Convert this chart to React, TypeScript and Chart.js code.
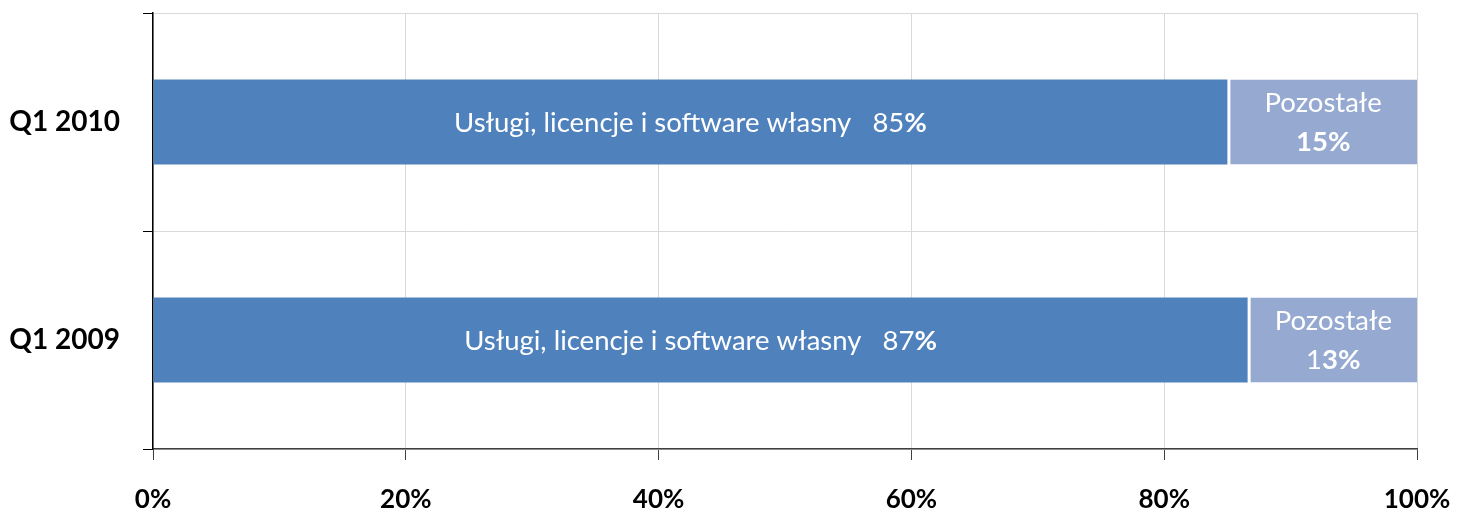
import React, { useEffect, useRef } from "react";
import { Chart, registerables } from "chart.js";

Chart.register(...registerables);

const categories = ["Q1 2010", "Q1 2009"];
const ownShare = [85, 86.6];
const otherShare = [15, 13.4];
const ownLabel = "Usługi, licencje i software własny";
const otherLabel = "Pozostałe";
const xTicks = [0, 20, 40, 60, 80, 100];
// which characters of each percentage text are bold (Excel-like mixed formatting)
const ownBoldFrom = [2, 2];
const otherBoldFrom = [0, 1];

const FONT = "Lato";
const LABEL_SIZE = 27.5;

function drawMixed(ctx: CanvasRenderingContext2D, parts: { t: string; bold: boolean }[], cx: number, cy: number, size: number) {
  const widths = parts.map((p) => {
    ctx.font = `${p.bold ? "bold " : ""}${size}px ${FONT}`;
    return ctx.measureText(p.t).width;
  });
  const total = widths.reduce((a, b) => a + b, 0);
  let x = cx - total / 2;
  parts.forEach((p, i) => {
    ctx.font = `${p.bold ? "bold " : ""}${size}px ${FONT}`;
    ctx.fillText(p.t, x, cy);
    x += widths[i];
  });
}

const labelPlugin = {
  id: "segLabels",
  afterDatasetsDraw(chart: any) {
    const ctx = chart.ctx as CanvasRenderingContext2D;
    ctx.save();
    ctx.fillStyle = "#ffffff";
    ctx.textAlign = "left";
    ctx.textBaseline = "middle";
    const m0 = chart.getDatasetMeta(0);
    const m1 = chart.getDatasetMeta(1);
    categories.forEach((_, i) => {
      const b0 = m0.data[i];
      const pct0 = `${Math.round(ownShare[i])}%`;
      const cx0 = (b0.base + b0.x) / 2;
      drawMixed(
        ctx,
        [
          { t: ownLabel + "   " + pct0.slice(0, ownBoldFrom[i]), bold: false },
          { t: pct0.slice(ownBoldFrom[i]), bold: true },
        ],
        cx0,
        b0.y + 1,
        LABEL_SIZE
      );
      const b1 = m1.data[i];
      const pct1 = `${Math.round(otherShare[i])}%`;
      const cx1 = (b1.base + b1.x) / 2 + 1;
      drawMixed(ctx, [{ t: otherLabel, bold: false }], cx1, b1.y - 19, LABEL_SIZE);
      drawMixed(
        ctx,
        [
          { t: pct1.slice(0, otherBoldFrom[i]), bold: false },
          { t: pct1.slice(otherBoldFrom[i]), bold: true },
        ],
        cx1,
        b1.y + 20,
        LABEL_SIZE
      );
    });
    ctx.restore();
  },
};

export default function App() {
  const ref = useRef<HTMLCanvasElement | null>(null);
  useEffect(() => {
    document.body.style.margin = "0";
    const chart = new Chart(ref.current!, {
      type: "bar",
      data: {
        labels: categories,
        datasets: [
          {
            label: ownLabel,
            data: ownShare,
            backgroundColor: "#4F81BD",
            borderWidth: 0,
            barPercentage: 0.39,
            categoryPercentage: 1,
          },
          {
            label: otherLabel,
            data: otherShare,
            backgroundColor: "#95A9D1",
            borderColor: "#ffffff",
            borderWidth: { left: 3, top: 0, right: 0, bottom: 0 },
            borderSkipped: false,
            barPercentage: 0.39,
            categoryPercentage: 1,
          },
        ],
      },
      options: {
        indexAxis: "y",
        animation: false,
        responsive: false,
        maintainAspectRatio: false,
        layout: { padding: { left: 0, right: 41, top: 13, bottom: 0 } },
        plugins: { legend: { display: false }, tooltip: { enabled: false } },
        scales: {
          x: {
            stacked: true,
            min: 0,
            max: 100,
            afterBuildTicks: (s: any) => {
              s.ticks = xTicks.map((v) => ({ value: v }));
            },
            afterFit: (s: any) => {
              s.height = 64;
              s.paddingLeft = 0;
              s.paddingRight = 0;
              s.paddingTop = 0;
              s.paddingBottom = 0;
            },
            grid: {
              color: "#d9d9d9",
              tickColor: "#404040",
              tickLength: 11,
              lineWidth: 1,
            },
            border: { color: "#404040", width: 1.5 },
            ticks: {
              color: "#000",
              padding: 24,
              font: { family: FONT, size: 26, weight: "bold" },
              callback: (v: any) => `${v}%`,
              maxRotation: 0,
            },
          },
          y: {
            stacked: true,
            afterFit: (s: any) => {
              s.width = 153;
              s.paddingLeft = 0;
              s.paddingRight = 0;
              s.paddingTop = 0;
              s.paddingBottom = 0;
            },
            grid: {
              offset: true,
              color: "#d9d9d9",
              tickColor: "#000",
              tickLength: 10,
            },
            border: { color: "#000", width: 1.5 },
            ticks: {
              color: "#000",
              padding: 23,
              font: { family: FONT, size: 28, weight: "bold" },
            },
          },
        },
      },
      plugins: [labelPlugin],
    });
    return () => chart.destroy();
  }, []);
  return (
    <div style={{ position: "absolute", left: 0, top: 0, width: 1458, height: 513 }}>
      <canvas ref={ref} width={1458} height={513} />
    </div>
  );
}
